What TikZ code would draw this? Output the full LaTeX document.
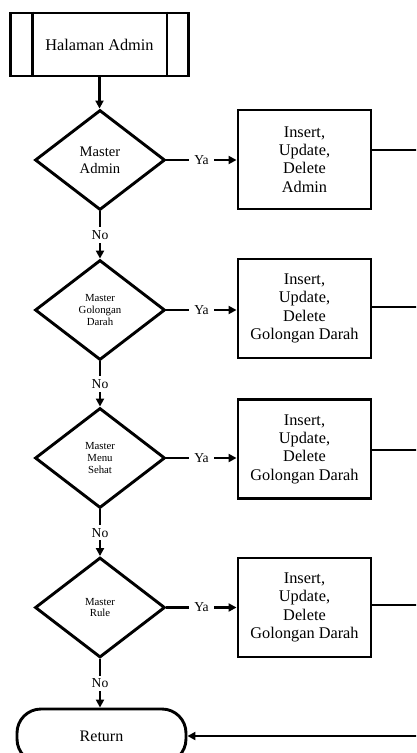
\documentclass[tikz,border=0pt]{standalone}
\usepackage{fontspec}
\setmainfont{Liberation Serif}
\usetikzlibrary{shapes.geometric,arrows.meta}
\tikzset{
  conn/.style={line width=2.9pt},
  arrow/.style={conn, -{Triangle[length=8pt,width=8pt]}},
  procbox/.style={draw, line width=2.9pt, minimum width=133pt, minimum height=99pt,
    align=center, inner sep=0pt, font=\fontsize{16.3}{18.3}\selectfont},
  decision/.style={draw, diamond, line width=2.9pt, minimum width=130pt,
    minimum height=100pt, inner sep=0pt, align=center},
  smalltxt/.style={font=\fontsize{10.8}{11.8}\selectfont},
  lbl/.style={fill=white, inner xsep=5pt, inner ysep=3pt, font=\fontsize{13.6}{15}\selectfont},
  startbox/.style={draw, line width=2.9pt, minimum width=178pt, minimum height=63pt,
    inner sep=0pt, font=\fontsize{16.3}{18.3}\selectfont},
  endbox/.style={draw, line width=2.9pt, minimum width=169pt, minimum height=54pt,
    rounded corners=24pt, inner sep=0pt, font=\fontsize{16}{18}\selectfont}
}
\begin{document}
\begin{tikzpicture}[x=1pt,y=-1pt]
\useasboundingbox (0,0) rectangle (416,753);
\fill[white] (0,0) rectangle (416,753);
\clip (0,0) rectangle (416,753);

% start
\node[startbox] (ha) at (99.5,44.5) {Halaman Admin};
\draw[conn] ([xshift=23pt]ha.north west) -- ([xshift=23pt]ha.south west);
\draw[conn] ([xshift=-23pt]ha.north east) -- ([xshift=-23pt]ha.south east);

% decisions
\node[decision, font=\fontsize{14.6}{16.7}\selectfont] (d1) at (100,160) {Master\\Admin};
\node[decision, smalltxt] (d2) at (100,310) {Master\\Golongan\\Darah};
\node[decision, smalltxt] (d3) at (100,458) {Master\\Menu\\Sehat};
\node[decision, smalltxt] (d4) at (100,607.5) {Master\\Rule};

% process boxes
\node[procbox] (b1) at (304.5,159.5) {Insert,\\Update,\\Delete\\Admin};
\node[procbox] (b2) at (304.5,308.5) {Insert,\\Update,\\Delete\\Golongan Darah};
\node[procbox] (b3) at (304.5,449) {Insert,\\Update,\\Delete\\Golongan Darah};
\node[procbox] (b4) at (304.5,607.5) {Insert,\\Update,\\Delete\\Golongan Darah};

% return
\node[endbox] (ret) at (101.5,736) {Return};

% right-side free ends
\coordinate (r1) at (422,150);
\coordinate (r2) at (422,307);
\coordinate (r3) at (422,450);
\coordinate (r4) at (422,605);
\coordinate (r5) at (422,736);

% vertical flow
\draw[arrow] (ha.south) -- (ha.south |- d1.north);
\draw[arrow] (d1.south) -- node[lbl]{No} (d2.north);
\draw[arrow] (d2.south) -- node[lbl]{No} (d3.north);
\draw[arrow] (d3.south) -- node[lbl]{No} (d4.north);
\draw[arrow] (d4.south) -- node[lbl]{No} (d4.south |- ret.north);

% Ya branches
\draw[arrow] (d1.east) -- node[lbl]{Ya} (b1.west |- d1.east);
\draw[arrow] (d2.east) -- node[lbl]{Ya} (b2.west |- d2.east);
\draw[arrow] (d3.east) -- node[lbl]{Ya} (b3.west |- d3.east);
\draw[arrow] (d4.east) -- node[lbl]{Ya} (b4.west |- d4.east);

% outputs to the right
\draw[conn] (b1.east |- r1) -- (r1);
\draw[conn] (b2.east |- r2) -- (r2);
\draw[conn] (b3.east |- r3) -- (r3);
\draw[conn] (b4.east |- r4) -- (r4);
\draw[arrow] (r5) -- (ret.east);
\end{tikzpicture}
\end{document}
